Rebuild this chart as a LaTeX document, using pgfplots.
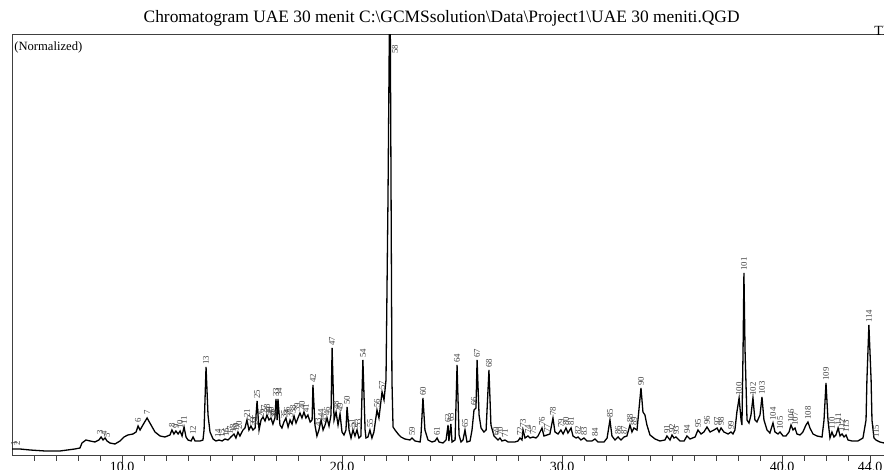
\documentclass[border=0pt]{standalone}
\usepackage{fontspec}
\setmainfont{Liberation Serif}
\usepackage{pgfplots}
\pgfplotsset{compat=1.18}
\usepackage{pgfplotstable}

\pgfplotstableread{
t h
5.00 7
5.36 7
5.82 6
6.50 5
7.18 5
7.86 7
8.09 8
8.18 13
8.36 16
8.55 15
8.77 14
8.95 16
9.05 19
9.14 16
9.23 18
9.32 15
9.45 13
9.68 12
9.91 15
10.09 19
10.27 21
10.50 22
10.64 24
10.73 30
10.82 26
10.95 31
11.14 38
11.32 31
11.50 24
11.73 20
11.95 19
12.18 21
12.27 26
12.36 22
12.45 25
12.55 22
12.64 25
12.73 20
12.82 29
12.91 19
13.00 16
13.14 15
13.23 19
13.32 15
13.55 15
13.68 16
13.73 26
13.82 89
13.91 41
14.00 24
14.14 17
14.27 15
14.41 16
14.55 15
14.68 17
14.82 16
14.95 19
15.09 22
15.18 18
15.27 24
15.36 20
15.50 26
15.59 28
15.68 36
15.77 26
15.86 30
15.95 26
16.05 28
16.14 55
16.23 26
16.32 36
16.41 39
16.50 35
16.59 41
16.68 36
16.77 38
16.86 32
16.95 38
17.00 57
17.05 36
17.09 57
17.18 31
17.27 28
17.36 34
17.45 38
17.55 29
17.64 36
17.73 32
17.82 40
17.91 33
18.00 38
18.09 43
18.18 38
18.27 44
18.36 38
18.45 41
18.55 34
18.64 36
18.68 71
18.77 31
18.86 20
18.95 26
19.05 36
19.14 26
19.23 31
19.32 38
19.41 30
19.50 41
19.55 108
19.64 36
19.73 44
19.82 31
19.91 42
20.00 24
20.09 21
20.18 26
20.23 49
20.32 26
20.41 18
20.50 26
20.59 20
20.68 26
20.77 18
20.86 20
20.95 96
21.05 26
21.09 18
21.18 19
21.27 26
21.36 18
21.45 24
21.59 46
21.68 38
21.82 64
21.91 56
22.00 76
22.09 256
22.18 500
22.27 76
22.32 29
22.41 26
22.55 22
22.68 19
22.86 17
23.09 16
23.18 18
23.32 15
23.55 14
23.59 21
23.68 58
23.77 26
23.91 16
24.09 14
24.23 15
24.32 18
24.41 14
24.59 13
24.73 16
24.82 31
24.86 15
24.95 32
25.00 14
25.14 16
25.23 91
25.32 21
25.41 14
25.50 16
25.59 26
25.68 14
25.82 15
25.91 26
26.00 46
26.09 48
26.14 96
26.23 41
26.32 28
26.45 24
26.55 26
26.68 86
26.77 31
26.91 20
27.00 18
27.09 16
27.18 18
27.27 15
27.41 16
27.55 14
27.86 14
28.00 15
28.09 18
28.18 16
28.23 26
28.32 18
28.45 20
28.55 18
28.68 19
28.82 18
28.91 20
29.09 28
29.18 20
29.32 21
29.45 22
29.59 38
29.68 24
29.82 22
29.95 26
30.05 22
30.18 28
30.27 23
30.41 28
30.50 20
30.64 18
30.73 19
30.86 16
31.00 18
31.14 15
31.36 15
31.50 17
31.64 14
31.91 14
32.05 18
32.18 36
32.27 20
32.41 16
32.55 19
32.68 16
32.82 19
32.95 20
33.09 31
33.18 24
33.27 28
33.41 26
33.59 68
33.68 44
33.77 41
33.86 31
34.00 21
34.23 17
34.45 15
34.68 16
34.77 20
34.91 16
35.00 21
35.09 18
35.18 19
35.36 15
35.55 15
35.68 20
35.82 17
36.05 19
36.18 26
36.32 22
36.45 24
36.59 29
36.73 24
36.91 26
37.05 28
37.14 24
37.23 28
37.36 24
37.55 22
37.68 24
37.77 22
37.86 26
37.95 44
38.05 58
38.14 36
38.18 31
38.23 106
38.27 183
38.32 106
38.41 36
38.50 33
38.59 41
38.68 58
38.77 36
38.86 34
39.00 41
39.09 59
39.18 36
39.32 26
39.45 23
39.59 33
39.68 24
39.82 22
39.91 24
40.05 20
40.18 20
40.32 24
40.41 31
40.50 26
40.59 28
40.68 22
40.82 21
40.95 24
41.09 31
41.18 34
41.27 28
41.41 22
41.59 20
41.82 19
41.91 36
42.00 73
42.09 36
42.18 18
42.27 24
42.36 19
42.45 21
42.55 28
42.64 20
42.73 22
42.82 19
42.91 21
43.00 16
43.18 15
43.45 15
43.68 18
43.82 36
43.86 76
43.95 131
44.05 76
44.09 36
44.18 18
44.27 16
44.45 14
44.64 13
44.91 12
}\trace

\pgfplotstableread{
t h lab
5.09 9 1
5.23 9 2
9.00 20 3
9.18 19 4
9.32 17 5
10.73 32 6
11.14 40 7
12.27 27 8
12.45 26 9
12.64 26 10
12.82 30 11
13.23 20 12
13.82 90 13
14.36 17 14
14.55 17 15
14.73 18 16
14.91 20 17
15.05 22 18
15.18 23 19
15.32 25 20
15.68 37 21
15.82 31 22
15.95 29 23
16.05 29 24
16.14 56 25
16.32 37 26
16.45 41 27
16.59 42 28
16.68 39 29
16.77 39 30
16.86 36 31
16.91 37 32
17.00 58 33
17.14 58 34
17.36 36 35
17.50 39 36
17.64 37 37
17.77 41 38
17.95 43 39
18.18 45 40
18.36 42 41
18.68 72 42
18.91 28 43
19.05 37 44
19.18 32 45
19.32 39 46
19.55 109 47
19.73 45 48
19.91 43 49
20.23 50 50
20.45 27 51
20.59 24 52
20.73 27 53
20.95 97 54
21.27 27 55
21.59 47 56
21.82 65 57
22.41 401 58
23.18 19 59
23.68 59 60
24.32 19 61
24.82 32 62
24.95 33 63
25.23 92 64
25.59 27 65
26.00 49 66
26.14 97 67
26.68 87 68
27.00 19 69
27.18 19 70
27.41 17 71
28.09 19 72
28.23 27 73
28.45 21 74
28.68 20 75
29.09 29 76
29.32 22 77
29.59 39 78
29.95 27 79
30.18 29 80
30.41 29 81
30.73 20 82
31.00 19 83
31.50 18 84
32.18 37 85
32.55 20 86
32.82 20 87
33.09 32 88
33.27 29 89
33.59 69 90
34.77 21 91
35.00 22 92
35.18 20 93
35.68 21 94
36.18 27 95
36.59 30 96
37.05 29 97
37.23 29 98
37.68 25 99
38.05 59 100
38.27 184 101
38.68 59 102
39.09 60 103
39.59 34 104
39.91 25 105
40.41 32 106
40.59 29 107
41.18 35 108
42.00 74 109
42.27 25 110
42.55 29 111
42.73 23 112
42.91 22 113
43.95 132 114
44.27 17 115
}\peaks

\begin{document}
\begin{tikzpicture}[x=1pt,y=1pt]
\useasboundingbox (-6,-7) rectangle (436,228);
\clip (-6,-7) rectangle (436,228);
\begin{axis}[
  at={(0,0)}, anchor=south west,
  scale only axis, width=440pt, height=210.5pt,
  xmin=5, xmax=45, ymin=0, ymax=421,
  xtick={10,20,30,40,44},
  xticklabels={10.0,20.0,30.0,40.0,44.0},
  minor xtick={6,7,8,9,11,12,13,14,15,16,17,18,19,21,22,23,24,25,26,27,28,29,31,32,33,34,35,36,37,38,39,41,42,43,45},
  xtick pos=bottom,
  ytick=\empty,
  tick align=outside,
  major tick length=3.5pt, minor tick length=2.5pt,
  axis line style={black!75, line width=0.5pt},
  tick style={black!75, line width=0.4pt},
  xticklabel style={font=\fontsize{7}{8}\selectfont, inner sep=0.5pt, yshift=1pt},
  clip=true,
]
\addplot[black, line width=0.65pt] table[x=t,y=h] {\trace};
\addplot[draw=none, mark=none, point meta=explicit symbolic,
  nodes near coords={\pgfplotspointmeta},
  nodes near coords style={rotate=90, anchor=west, inner sep=0.4pt,
    font=\fontsize{4.4}{5}\selectfont, text=black!75}]
  table[x=t,y=h,meta=lab] {\peaks};
\end{axis}
\node[font=\fontsize{8.7}{10}\selectfont, inner sep=0pt] at (214.8,219)
  {Chromatogram UAE 30 menit C:\textbackslash GCMSsolution\textbackslash Data\textbackslash Project1\textbackslash UAE 30 meniti.QGD};
\node[anchor=west, inner sep=0pt, font=\fontsize{6.3}{7}\selectfont] at (1,204.5) {(Normalized)};
\node[anchor=west, inner sep=0pt, font=\fontsize{7}{8}\selectfont] at (431,212.5) {TIC};
\end{tikzpicture}
\end{document}
